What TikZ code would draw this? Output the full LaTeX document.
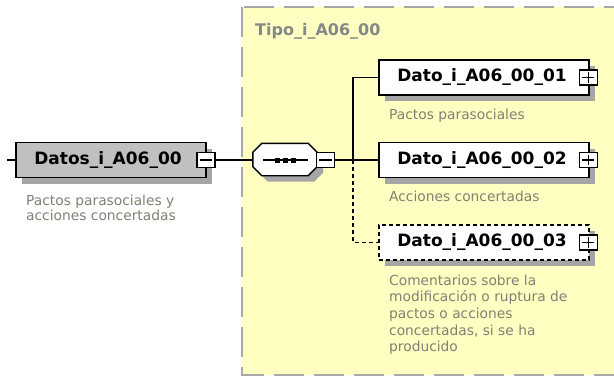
\documentclass[tikz,border=0pt]{standalone}
\usepackage{fontspec}
\setmainfont{DejaVu Sans}
\usetikzlibrary{shadows,calc}
\definecolor{zonefill}{RGB}{255,255,194}
\definecolor{zoneline}{RGB}{168,168,168}
\definecolor{shadegray}{RGB}{165,165,165}
\definecolor{desccol}{RGB}{134,126,116}
\definecolor{tipocol}{RGB}{132,136,136}
\definecolor{boxgray}{RGB}{192,192,192}
\tikzset{
  shadowed/.style={general shadow={shadow xshift=6pt, shadow yshift=-6pt, fill=shadegray}},
  elembox/.style={draw=black, line width=1.4pt, fill=white, minimum width=210pt, minimum height=35pt, inner sep=0pt, shadowed},
  optbox/.style={elembox, dash pattern=on 4pt off 3pt},
  mainbox/.style={draw=black, line width=1.4pt, fill=boxgray, minimum width=190pt, minimum height=35pt, inner sep=0pt, shadowed},
  pmbox/.style={draw=black, line width=1.1pt, fill=white, minimum width=18pt, minimum height=15pt, inner sep=0pt},
  seqframe/.style={draw=none, minimum width=64pt, minimum height=32pt, inner sep=0pt},
  boxtext/.style={font=\bfseries\fontsize{17}{20}\selectfont, text=black, inner sep=0pt},
  desctext/.style={font=\fontsize{13.8}{16.7}\selectfont, text=desccol, inner sep=0pt, align=left, anchor=north west},
  conn/.style={draw=black, line width=1.3pt},
  dot/.style={fill=black, minimum size=5pt, inner sep=0pt}
}
\begin{document}
\begin{tikzpicture}[x=1pt,y=-1pt]
\useasboundingbox (0,0) rectangle (614,376);
\fill[white] (0,0) rectangle (614,376);
% complex type zone
\draw[zoneline, fill=zonefill, line width=2pt, dash pattern=on 30pt off 10pt] (242,7) rectangle (630,375);
\node[anchor=base west, text=tipocol, font=\bfseries\fontsize{16}{19}\selectfont, inner sep=0pt] (tipo) at (255,35) {Tipo\_i\_A06\_00};

% main element
\node[mainbox] (datos) at (111,160) {};
\node[boxtext] (datostxt) at (108,160) {Datos\_i\_A06\_00};
\node[pmbox] (datosminus) at (206,160) {};
\draw[line width=1.1pt] ($(datosminus.west)+(3.5,0)$) -- ($(datosminus.east)+(-3.5,0)$);
\coordinate (instub) at (7,160);
\draw[conn] (instub) -- (datos.west);
\node[desctext] (datosdesc) at (26,194.5) {Pactos parasociales y\\[-1.7pt]acciones concertadas};

% sequence compositor
\node[seqframe] (seq) at (285,159.5) {};
\fill[shadegray] ($(seq.north west)+(15,6)$) -- ($(seq.north east)+(-3,6)$) -- ($(seq.north east)+(6,15)$)
  -- ($(seq.south east)+(6,-3)$) -- ($(seq.south east)+(-3,6)$) -- ($(seq.south west)+(15,6)$)
  -- ($(seq.south west)+(6,-3)$) -- ($(seq.north west)+(6,15)$) -- cycle;
\draw[line width=1.4pt, fill=white] ($(seq.north west)+(9,0)$) -- ($(seq.north east)+(-9,0)$) -- ($(seq.north east)+(0,9)$)
  -- ($(seq.south east)+(0,-9)$) -- ($(seq.south east)+(-9,0)$) -- ($(seq.south west)+(9,0)$)
  -- ($(seq.south west)+(0,-9)$) -- ($(seq.north west)+(0,9)$) -- cycle;
\coordinate (seql) at (263,160);
\coordinate (seqr) at (308,160);
\draw[line width=1.2pt] (seql) -- (seqr);
\node[dot] (d1) at (277.5,160) {};
\node[dot] (d2) at (285.5,160) {};
\node[dot] (d3) at (293.5,160) {};
\node[pmbox] (seqminus) at (325.5,160) {};
\draw[line width=1.1pt] ($(seqminus.west)+(3.5,0)$) -- ($(seqminus.east)+(-3.5,0)$);
\draw[conn] (datosminus.east) -- (seq.west |- datosminus.east);

% child elements
\node[elembox] (b1) at (484,77.5) {};
\node[boxtext] (b1txt) at (482,77.5) {Dato\_i\_A06\_00\_01};
\node[elembox] (b2) at (484,160) {};
\node[boxtext] (b2txt) at (482,160) {Dato\_i\_A06\_00\_02};
\node[optbox] (b3) at (484,242.5) {};
\node[boxtext] (b3txt) at (482,242.5) {Dato\_i\_A06\_00\_03};
\foreach \b in {b1,b2,b3}{
  \node[pmbox] (\b plus) at ($(\b.east)+(-1.5,0)$) {};
  \draw[line width=1.1pt] ($(\b plus.west)+(3.5,0)$) -- ($(\b plus.east)+(-3.5,0)$);
  \draw[line width=1.1pt] ($(\b plus.north)+(0,3)$) -- ($(\b plus.south)+(0,-3)$);
}

% connectors
\coordinate (br) at (353,160);
\draw[conn] (seqminus.east) -- (b2.west);
\draw[conn] (br) |- (b1.west);
\draw[conn, dash pattern=on 4pt off 3pt] (br) |- (b3.west);

% descriptions
\node[desctext] (d1desc) at (389,108.5) {Pactos parasociales};
\node[desctext] (d2desc) at (389,191) {Acciones concertadas};
\node[desctext] (d3desc) at (389,274.5) {Comentarios sobre la\\modificación o ruptura de\\pactos o acciones\\concertadas, si se ha\\producido};
\end{tikzpicture}
\end{document}
